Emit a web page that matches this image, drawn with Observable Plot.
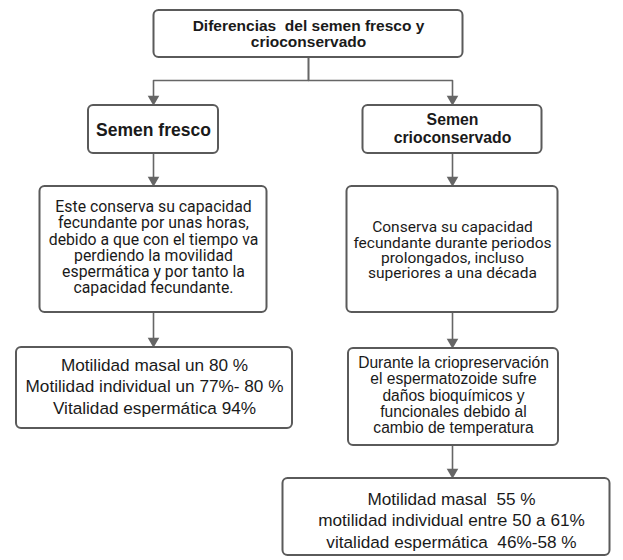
<!DOCTYPE html>
<html>
<head>
<meta charset="utf-8">
<script src="https://cdn.jsdelivr.net/npm/d3@7"></script>
<script src="https://cdn.jsdelivr.net/npm/@observablehq/plot@0.6"></script>
<style>
  html, body { margin: 0; padding: 0; background: #fff; }
  #chart svg { display: block; }
</style>
</head>
<body>
<div id="chart"></div>
<script>
// Node texts
const nodeText = [
  "Diferencias  del semen fresco y\ncrioconservado",
  "Semen fresco",
  "Semen\ncrioconservado",
  "Este conserva su capacidad\nfecundante por unas horas,\ndebido a que con el tiempo va\nperdiendo la movilidad\nespermática y por tanto la\ncapacidad fecundante.",
  "Conserva su capacidad\nfecundante durante periodos\nprolongados, incluso\nsuperiores a una década",
  "Motilidad masal un 80 %\nMotilidad individual un 77%- 80 %\nVitalidad espermática 94%",
  "Durante la criopreservación\nel espermatozoide sufre\ndaños bioquímicos y\nfuncionales debido al\ncambio de temperatura",
  "Motilidad masal  55 %\nmotilidad individual entre 50 a 61%\nvitalidad espermática  46%-58 %"
];
// Edges (parent index -> child index)
const edgeFrom = [0, 0, 1, 2, 3, 4, 6];
const edgeTo   = [1, 2, 3, 4, 5, 6, 7];

// Layout (pixel frame of the diagram)
const layout = [
  {cx: 308, w: 309, y1: 10,  y2: 57,  tx: 308, ty: 33,  ax: 308, font: "Liberation Sans", size: 15.5, weight: "bold",   lh: 1.08},
  {cx: 153, w: 130, y1: 105, y2: 153, tx: 153, ty: 129, ax: 153, font: "Liberation Sans", size: 17.5, weight: "bold",   lh: 1.1},
  {cx: 452, w: 179, y1: 105, y2: 153, tx: 452, ty: 128, ax: 452, font: "Liberation Sans", size: 15.8, weight: "bold",   lh: 1.12},
  {cx: 153, w: 227, y1: 186, y2: 312, tx: 153, ty: 247, ax: 153, font: "Roboto",          size: 15.8, weight: "normal", lh: 1.02},
  {cx: 452, w: 211, y1: 186, y2: 312, tx: 452, ty: 250, ax: 452, font: "Roboto",          size: 15.5, weight: "normal", lh: 0.99},
  {cx: 154, w: 276, y1: 347, y2: 428, tx: 154, ty: 385, ax: 153, font: "Liberation Sans", size: 17.2, weight: "normal", lh: 1.25},
  {cx: 453, w: 210, y1: 348, y2: 445, tx: 453, ty: 395, ax: 452, font: "Liberation Sans", size: 15.6, weight: "normal", lh: 1.04},
  {cx: 446, w: 327, y1: 478, y2: 555, tx: 451, ty: 519, ax: 452, font: "Liberation Sans", size: 17.2, weight: "normal", lh: 1.24}
];

const nodes = nodeText.map((t, i) => ({text: t, ...layout[i]}));

const linePts = [];
const heads = [];
edgeFrom.forEach((f, k) => {
  const p = nodes[f], c = nodes[edgeTo[k]];
  const top = c.y1 - 1;
  if (Math.abs(p.ax - c.ax) < 1) {
    linePts.push({e: k, x: p.ax, y: p.y2}, {e: k, x: c.ax, y: top - 8});
  } else {
    const my = 80;
    linePts.push({e: k, x: p.ax, y: p.y2}, {e: k, x: p.ax, y: my},
                 {e: k, x: c.ax, y: my}, {e: k, x: c.ax, y: top - 8});
  }
  heads.push({x: c.ax, y: top - 5.5});
});

const textMarks = nodes.map(n => Plot.text([n], {
  x: "tx",
  y: "ty",
  text: "text",
  fontFamily: n.font,
  fontSize: n.size,
  fontWeight: n.weight,
  lineHeight: n.lh,
  fill: "#1a1a1a",
  textAnchor: "middle"
}));

const chart = Plot.plot({
  width: 623,
  height: 560,
  margin: 0,
  x: {domain: [0, 623], axis: null},
  y: {domain: [0, 560], reverse: true, axis: null},
  marks: [
    Plot.line(linePts, {x: "x", y: "y", z: "e", stroke: "#666", strokeWidth: 1.6, curve: "linear"}),
    Plot.dot(heads, {x: "x", y: "y", symbol: "triangle", r: 4.3, rotate: 180, fill: "#666", stroke: "none"}),
    Plot.rect(nodes, {
      x1: d => d.cx - d.w / 2, x2: d => d.cx + d.w / 2,
      y1: "y1", y2: "y2",
      fill: "#fff", stroke: "#5a5a5a", strokeWidth: 2, rx: 5
    }),
    ...textMarks
  ]
});
document.getElementById("chart").appendChild(chart);
</script>
</body>
</html>
